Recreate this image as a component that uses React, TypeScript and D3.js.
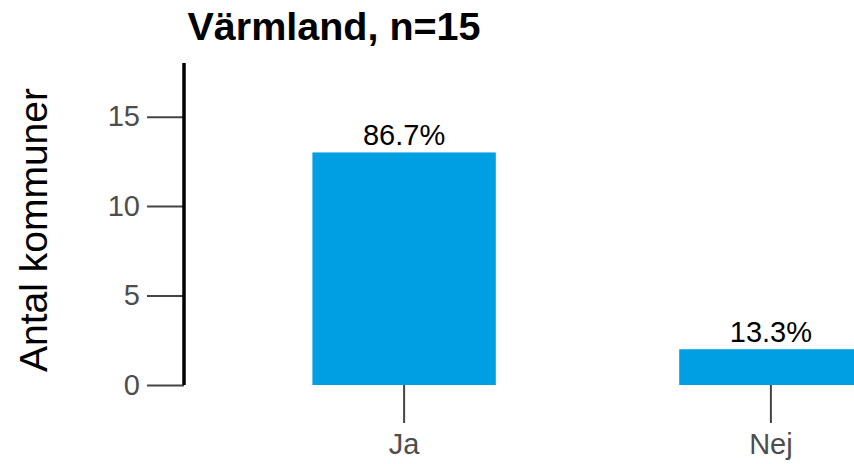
import { useRef, useEffect } from "react";
import * as d3 from "d3";

const categories = ["Ja", "Nej"];
const counts = [13, 2];
const percentLabels = ["86.7%", "13.3%"];
const yTicks = [0, 5, 10, 15];
const title = "Värmland, n=15";
const yTitle = "Antal kommuner";

const BAR_COLOR = "#009FE3";
const FONT = "'Liberation Sans', Arial, sans-serif";

export default function App() {
  const svgRef = useRef<SVGSVGElement>(null);

  useEffect(() => {
    if (!svgRef.current) return;
    const width = 854;
    const height = 464;

    const svg = d3.select(svgRef.current);
    svg.selectAll("*").remove();
    svg.attr("width", width).attr("height", height);

    const x = d3
      .scaleBand()
      .domain(categories)
      .range([129, 1046])
      .paddingInner(0.5)
      .paddingOuter(0.5);

    const y = d3.scaleLinear().domain([0, 18]).range([385, 63]);

    // Title
    svg
      .append("text")
      .attr("x", 334)
      .attr("y", 40)
      .attr("text-anchor", "middle")
      .style("font-family", FONT)
      .style("font-size", "39.5px")
      .style("font-weight", "700")
      .style("fill", "#000")
      .text(title);

    // Y axis title
    svg
      .append("text")
      .attr("transform", `translate(47, ${y(9) + 6}) rotate(-90)`)
      .attr("text-anchor", "middle")
      .style("font-family", FONT)
      .style("font-size", "39px")
      .style("fill", "#000")
      .text(yTitle);

    // Bars
    svg
      .selectAll(".bar")
      .data(categories)
      .enter()
      .append("rect")
      .attr("x", (d) => x(d)!)
      .attr("y", (_, i) => y(counts[i]))
      .attr("width", x.bandwidth())
      .attr("height", (_, i) => y(0) - y(counts[i]))
      .attr("fill", BAR_COLOR);

    // Value labels on top
    svg
      .selectAll(".label")
      .data(categories)
      .enter()
      .append("text")
      .attr("x", (d) => x(d)! + x.bandwidth() / 2)
      .attr("y", (_, i) => y(counts[i]) - 7)
      .attr("text-anchor", "middle")
      .style("font-family", FONT)
      .style("font-size", "29px")
      .style("fill", "#000")
      .text((_, i) => percentLabels[i]);

    // Y axis
    const yAxis = svg
      .append("g")
      .attr("transform", "translate(184,0)")
      .call(d3.axisLeft(y).tickValues(yTicks).tickSize(37).tickPadding(7));
    yAxis.select(".domain").remove();
    yAxis.selectAll(".tick line").attr("stroke", "#444").attr("stroke-width", 2);
    yAxis
      .selectAll(".tick text")
      .style("font-family", FONT)
      .style("font-size", "29px")
      .style("fill", "#4d4d4d");
    svg
      .append("line")
      .attr("x1", 184)
      .attr("x2", 184)
      .attr("y1", y(18))
      .attr("y2", y(0))
      .attr("stroke", "#000")
      .attr("stroke-width", 3.5);

    // X axis
    const xAxis = svg
      .append("g")
      .attr("transform", `translate(0,${y(0)})`)
      .call(d3.axisBottom(x).tickSize(38).tickPadding(10));
    xAxis.select(".domain").remove();
    xAxis.selectAll(".tick line").attr("stroke", "#444").attr("stroke-width", 2);
    xAxis
      .selectAll(".tick text")
      .style("font-family", FONT)
      .style("font-size", "29px")
      .style("fill", "#4d4d4d");
  }, []);

  return (
    <svg
      ref={svgRef}
      style={{ position: "absolute", left: 0, top: 0, background: "#fff" }}
    />
  );
}
